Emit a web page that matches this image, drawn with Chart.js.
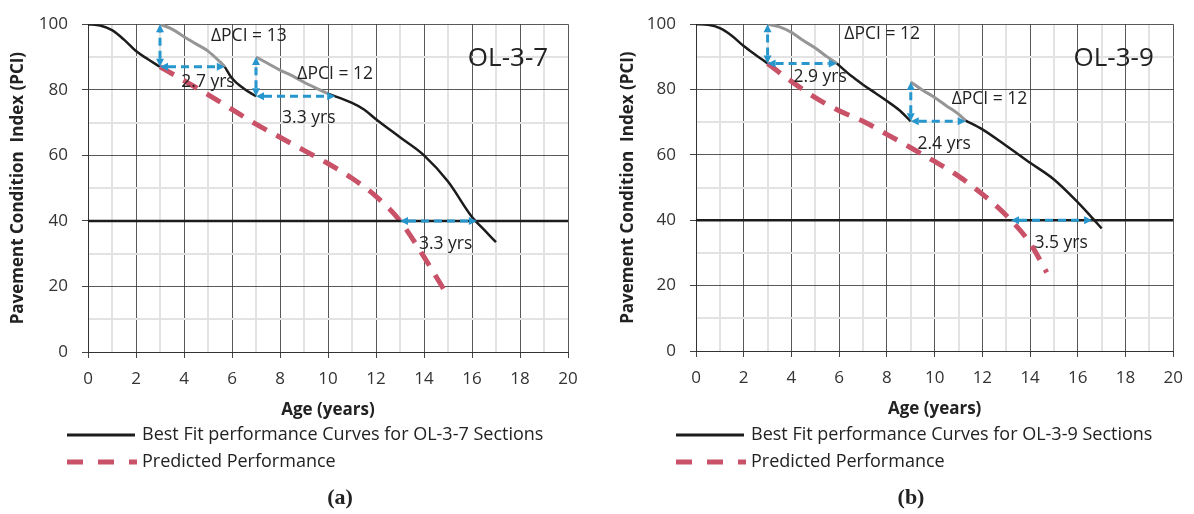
<!DOCTYPE html>
<html>
<head>
<meta charset="utf-8">
<script src="https://cdn.jsdelivr.net/npm/chart.js@4.4.1/dist/chart.umd.min.js"></script>
<style>
  body { margin: 0; background: #fff; }
  canvas { position: absolute; top: 0; }
  #chartA { left: 0; }
  #chartB { left: 597px; }
</style>
</head>
<body>
<canvas id="chartA" width="597" height="514"></canvas>
<canvas id="chartB" width="597" height="514"></canvas>
<script>
// ---- data: [age (years), PCI] ----
// (a) OL-3-7
const fitA1 = [[0,100],[0.5,99.6],[1,98.2],[1.5,95.3],[2,91.8],[2.5,89.3],[3,87]];
const shiftA1 = [[3,100],[3.5,98.5],[4,96.2],[4.5,94],[5,91.8],[5.5,88.5],[5.7,87]];
const fitA2 = [[5.7,87],[6,83.5],[6.5,80.3],[7,78]];
const shiftA2 = [[7,90],[7.5,88],[8,86],[8.5,84.3],[9,82.3],[9.5,80.5],[10,78.8]];
const fitA3 = [[10,78.8],[11,76],[11.5,74],[12,71],[13,65.5],[14,60],[15,52],[16,41.2],[16.5,37.3],[17,33.5]];
const predA = [[3,87],[4,82.8],[5,78.5],[6,74],[7,69.5],[8,65.5],[9,61.5],[10,57.5],[11,53],[12,47.5],[13,40],[14,29],[15,17]];
const arrowsA = [[3,87,3,100],[3,87,5.7,87],[7,78,7,90],[7,78,10.3,78],[13,40,16.2,40]];
const labelsA = [["ΔPCI = 13",6.7,96.4],["2.7 yrs",5.0,82.3],["ΔPCI = 12",10.3,84.7],["3.3 yrs",9.2,71.5],["3.3 yrs",14.9,33]];

// (b) OL-3-9
const fitB1 = [[0,100],[0.5,99.8],[1,98.8],[1.5,96.5],[2,93.3],[2.5,90.6],[3,88]];
const shiftB1 = [[3,100],[3.5,99.2],[4,97.5],[4.5,95],[5,92.7],[5.5,90],[5.9,88]];
const fitB2 = [[5.9,88],[6.5,84.2],[7,81.5],[7.5,79],[8,76.5],[8.5,73.8],[9,70.3]];
const shiftB2 = [[9,82.3],[9.5,79.8],[10,77.6],[10.5,75],[11,72.5],[11.3,70.5]];
const fitB3 = [[11.3,70.5],[12,67.8],[13,62.8],[14,57.6],[15,52.5],[16,45.5],[16.5,41.6],[17,37.5]];
const predB = [[3,88],[4,82.5],[5,77.5],[6,73.5],[7,70.3],[8,66.3],[9,62.2],[10,58],[11,53.5],[12,48],[13,41.5],[14,33],[14.7,24]];
const arrowsB = [[3,88,3,100],[3,88,5.9,88],[9,70.3,9,82.3],[9,70.3,11.3,70.3],[13.2,40,16.6,40]];
const labelsB = [["ΔPCI = 12",7.8,97],["2.9 yrs",5.2,83.8],["ΔPCI = 12",12.3,77.2],["2.4 yrs",10.4,63.4],["3.5 yrs",15.3,33]];

const limitLine = [[0,40],[20,40]];
const ageTicks = [0,2,4,6,8,10,12,14,16,18,20];
const pciTicks = [0,20,40,60,80,100];

const FONT = "'Open Sans', sans-serif";
const blue = "rgb(38,150,205)";
const red = "rgb(201,82,104)";
const black = "#1c1c1c";
const gray = "rgb(150,150,150)";

const toXY = pts => pts.map(p => ({x: p[0], y: p[1]}));

function lineSet(pts, color, width, dash) {
  return {
    data: toXY(pts),
    showLine: true,
    borderColor: color,
    backgroundColor: color,
    borderWidth: width,
    borderDash: dash || [],
    pointRadius: 0,
    cubicInterpolationMode: "monotone",
    fill: false,
  };
}

// draws the blue arrows, the in-plot notes, the legend and the caption
const marksPlugin = {
  id: "marks",
  afterDatasetsDraw(chart, args, opts) {
    const {ctx, scales: {x, y}} = chart;
    ctx.save();
    ctx.strokeStyle = blue;
    ctx.fillStyle = blue;
    ctx.lineWidth = 3;
    const head = 8;
    const drawHead = (px, py, ang) => {
      ctx.beginPath();
      ctx.moveTo(px, py);
      ctx.lineTo(px - head * Math.cos(ang) + 4 * Math.sin(ang), py - head * Math.sin(ang) - 4 * Math.cos(ang));
      ctx.lineTo(px - head * Math.cos(ang) - 4 * Math.sin(ang), py - head * Math.sin(ang) + 4 * Math.cos(ang));
      ctx.closePath();
      ctx.fill();
    };
    opts.arrows.forEach(a => {
      const x1 = x.getPixelForValue(a[0]), y1 = y.getPixelForValue(a[1]);
      const x2 = x.getPixelForValue(a[2]), y2 = y.getPixelForValue(a[3]);
      const ang = Math.atan2(y2 - y1, x2 - x1);
      ctx.setLineDash([8, 5]);
      ctx.beginPath();
      ctx.moveTo(x1 + head * Math.cos(ang), y1 + head * Math.sin(ang));
      ctx.lineTo(x2 - head * Math.cos(ang), y2 - head * Math.sin(ang));
      ctx.stroke();
      ctx.setLineDash([]);
      drawHead(x2, y2, ang);
      drawHead(x1, y1, ang + Math.PI);
    });

    ctx.fillStyle = "#222";
    ctx.font = "17.5px " + FONT;
    ctx.textAlign = "center";
    ctx.textBaseline = "middle";
    opts.labels.forEach(l => {
      ctx.fillText(l[0], x.getPixelForValue(l[1]), y.getPixelForValue(l[2]));
    });
    ctx.font = "26px " + FONT;
    ctx.fillText(opts.name, x.getPixelForValue(17.5), y.getPixelForValue(89.5));
    ctx.restore();
  },
  afterDraw(chart, args, opts) {
    const ctx = chart.ctx;
    const lg = opts.legend;
    ctx.save();
    ctx.lineWidth = 3;
    ctx.strokeStyle = black;
    ctx.beginPath();
    ctx.moveTo(lg.x, 435);
    ctx.lineTo(lg.x + 68, 435);
    ctx.stroke();
    ctx.strokeStyle = red;
    ctx.lineWidth = 5;
    ctx.setLineDash([16, 15]);
    ctx.beginPath();
    ctx.moveTo(lg.x, 462);
    ctx.lineTo(lg.x + 70, 462);
    ctx.stroke();
    ctx.setLineDash([]);
    ctx.fillStyle = "#222";
    ctx.font = "18px " + FONT;
    ctx.textBaseline = "middle";
    ctx.textAlign = "left";
    ctx.fillText(lg.fit, lg.x + 75, 435);
    ctx.fillText("Predicted Performance", lg.x + 75, 462);
    ctx.font = "bold 22px 'Liberation Serif', serif";
    ctx.textAlign = "center";
    ctx.fillText(opts.caption, lg.capX, 498);
    ctx.restore();
  }
};

function makeChart(id, parts, cfg) {
  const datasets = [
    lineSet(limitLine, black, 2.5),
    lineSet(parts.pred, red, 5, [16, 11]),
    lineSet(parts.fit1, black, 2.5),
    lineSet(parts.fit2, black, 2.5),
    lineSet(parts.fit3, black, 2.5),
    lineSet(parts.shift1, gray, 3),
    lineSet(parts.shift2, gray, 3),
  ];

  return new Chart(document.getElementById(id), {
    type: "scatter",
    data: { datasets: datasets },
    options: {
      responsive: false,
      animation: false,
      devicePixelRatio: 1,
      layout: { padding: { top: 18, right: cfg.padRight, bottom: cfg.padBottom, left: 0 } },
      plugins: {
        legend: { display: false },
        tooltip: { enabled: false },
        marks: {
          arrows: parts.arrows,
          labels: parts.labels,
          name: cfg.name,
          caption: cfg.caption,
          legend: { x: cfg.legendX, fit: cfg.fitText, capX: cfg.capX },
        },
      },
      scales: {
        x: {
          type: "linear",
          min: 0,
          max: 20,
          afterFit: s => { s.height = 70; },
          afterBuildTicks: s => {
            s.ticks = [];
            for (let v = 0; v <= 20; v++) s.ticks.push({ value: v });
          },
          ticks: {
            autoSkip: false,
            maxRotation: 0,
            padding: 11,
            color: "#333",
            font: { family: FONT, size: 17 },
            callback: v => (ageTicks.includes(v) ? v : ""),
          },
          grid: {
            color: c => (ageTicks.includes(c.tick.value) ? "rgba(60,60,60,0.85)" : "#e3e3e3"),
            lineWidth: c => (ageTicks.includes(c.tick.value) ? 1 : 2),
            tickColor: c => (ageTicks.includes(c.tick.value) ? "#444" : "transparent"),
            tickLength: 6,
          },
          border: { color: "#333", width: 1 },
          title: {
            display: true,
            text: "Age (years)",
            color: "#222",
            font: { family: FONT, size: 17, weight: "bold" },
            padding: { top: 0, bottom: 2 },
          },
        },
        y: {
          min: 0,
          max: 100,
          afterFit: s => { s.width = cfg.yWidth; },
          afterBuildTicks: s => {
            s.ticks = [];
            for (let v = 0; v <= 100; v += 10) s.ticks.push({ value: v });
          },
          ticks: {
            autoSkip: false,
            padding: 14,
            color: "#333",
            font: { family: FONT, size: 17 },
            callback: v => (pciTicks.includes(v) ? v : ""),
          },
          grid: {
            color: c => (pciTicks.includes(c.tick.value) ? "rgba(60,60,60,0.85)" : "#e3e3e3"),
            lineWidth: c => (pciTicks.includes(c.tick.value) ? 1 : 2),
            tickColor: c => (pciTicks.includes(c.tick.value) ? "#444" : "transparent"),
            tickLength: 6,
          },
          border: { color: "#333", width: 1 },
          title: {
            display: true,
            text: "Pavement Condition  Index (PCI)",
            color: "#222",
            font: { family: FONT, size: 17, weight: "bold" },
            padding: { top: cfg.titlePad, bottom: 0 },
          },
        },
      },
    },
    plugins: [marksPlugin],
  });
}

makeChart("chartA",
  { pred: predA, fit1: fitA1, fit2: fitA2, fit3: fitA3, shift1: shiftA1, shift2: shiftA2, arrows: arrowsA, labels: labelsA },
  { name: "OL-3-7", caption: "(a)", fitText: "Best Fit performance Curves for OL-3-7 Sections",
    padRight: 29, padBottom: 92, yWidth: 88, titlePad: 8, legendX: 67, capX: 340 });

makeChart("chartB",
  { pred: predB, fit1: fitB1, fit2: fitB2, fit3: fitB3, shift1: shiftB1, shift2: shiftB2, arrows: arrowsB, labels: labelsB },
  { name: "OL-3-9", caption: "(b)", fitText: "Best Fit performance Curves for OL-3-9 Sections",
    padRight: 16, padBottom: 93, yWidth: 99, titlePad: 21, legendX: 79, capX: 314 });
</script>
</body>
</html>
